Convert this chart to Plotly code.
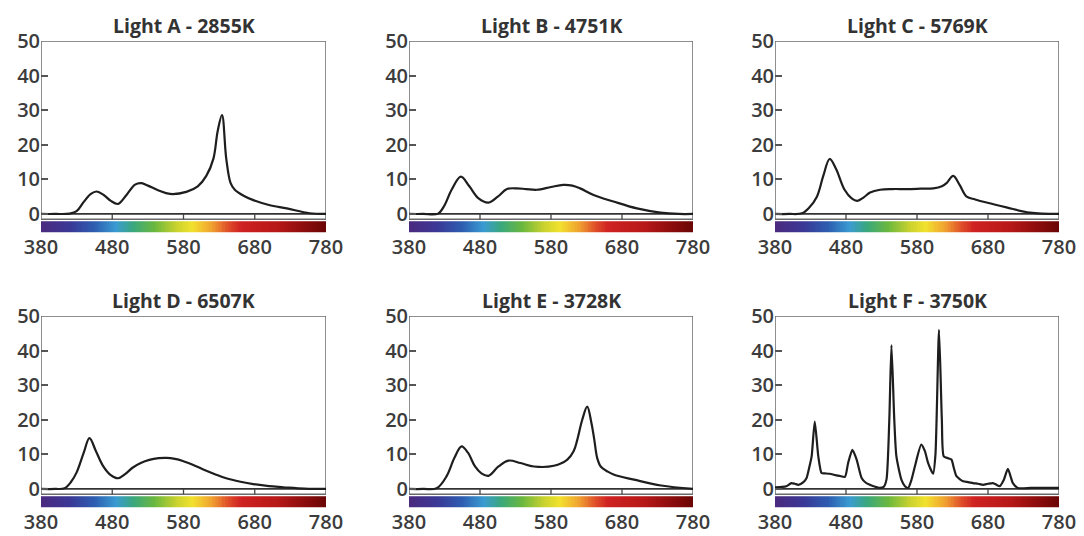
import numpy as np
import plotly.graph_objects as go

# ---------------- data ----------------
titles = ["Light A - 2855K", "Light B - 4751K", "Light C - 5769K",
          "Light D - 6507K", "Light E - 3728K", "Light F - 3750K"]

A_wl = [380, 400, 420, 430, 440, 450, 458, 468, 478, 488, 500, 512, 521, 530, 545, 561,
        584, 600, 612, 622, 628, 634, 640, 646, 652, 665, 678, 700, 725, 757, 780]
A_val = [0, 0, 0.1, 0.8, 3.5, 5.8, 6.5, 5.5, 3.8, 2.9, 5.5, 8.5, 8.9, 8.2, 6.8, 5.8,
         6.4, 8, 11, 16, 24, 28.6, 16, 9, 7, 5.2, 4, 2.6, 1.6, 0.2, 0]

B_wl = [380, 400, 421, 430, 440, 453, 465, 478, 492, 505, 518, 532, 545, 560, 580, 597,
        610, 621, 640, 668, 701, 734, 760, 780]
B_val = [0, 0, 0.1, 2.5, 7, 10.8, 8, 4.5, 3.3, 5, 7.2, 7.4, 7.2, 7.0, 7.8, 8.4,
         8.2, 7.4, 5.5, 3.6, 1.6, 0.4, 0, 0]

C_wl = [380, 400, 418, 428, 439, 448, 457, 466, 478, 488, 496, 505, 514, 528, 545, 565,
        585, 603, 615, 622, 631, 640, 650, 662, 678, 706, 739, 780]
C_val = [0, 0, 0.2, 1.8, 5, 11, 15.9, 13, 7, 4.5, 3.8, 4.8, 6.2, 7, 7.2, 7.2,
         7.3, 7.4, 8, 9, 11, 8.4, 5, 4.2, 3.3, 1.9, 0.4, 0]

D_wl = [380, 400, 413, 422, 430, 440, 448, 457, 467, 478, 488, 498, 509, 520, 532, 545,
        556, 568, 579, 593, 607, 625, 640, 660, 678, 700, 720, 750, 780]
D_val = [0, 0, 0.2, 2, 4.8, 10.5, 14.7, 11, 6.7, 4, 3.1, 4.3, 6.2, 7.5, 8.4, 8.9,
         9, 8.7, 8.1, 7, 5.7, 4.2, 3.1, 2.1, 1.4, 0.8, 0.5, 0.1, 0]

E_wl = [380, 400, 419, 433, 444, 454, 463, 473, 482, 492, 506, 520, 537, 556, 584, 603,
        612, 617, 624, 631, 637, 641, 645, 650, 660, 669, 697, 735, 780]
E_val = [0, 0, 0.2, 3.7, 9, 12.3, 10.5, 6.5, 4.5, 3.8, 6.5, 8.2, 7.5, 6.5, 6.7, 8.5,
         11, 14.2, 20, 23.8, 19, 14.2, 9, 6.5, 5, 4.1, 2.7, 1, 0]

F_wl = [380, 390, 396, 403, 408, 413, 420, 424.5, 428, 431.6, 436, 441, 445.6, 450, 457,
        465, 471, 478.5, 483, 489, 495, 502, 508, 513.6, 520, 527.7, 533, 537, 541, 544,
        548, 551, 558, 563, 567.6, 572, 577, 586, 591, 595.7, 602.7, 606, 611, 615, 617.7,
        623.8, 628.5, 632, 635.6, 645, 652, 659, 666, 673, 680, 687, 692, 696.5, 702, 708,
        712, 715, 722, 740, 760, 780]
F_val = [0.5, 0.6, 0.8, 1.7, 1.5, 1.2, 2, 3.2, 6, 9.4, 19.5, 9.4, 4.6, 4.5, 4.4,
         4.0, 3.8, 3.5, 7.5, 11.3, 8.5, 3.2, 1.8, 1.2, 0.7, 0.3, 0.6, 2.7, 20, 41.6,
         20, 9.4, 2.7, 0.8, 0.3, 2.5, 6.5, 12.8, 11, 7.5, 4.4, 10, 46, 20, 9.4,
         8.9, 8.5, 6, 3.7, 2.2, 2.0, 1.7, 1.5, 1.2, 1.5, 1.7, 1.2, 0.8, 2.5, 5.8,
         3.5, 1.7, 0.3, 0.3, 0.3, 0.3]

x_ticks = [380, 480, 580, 680, 780]
y_ticks = [0, 10, 20, 30, 40, 50]

series = [(A_wl, A_val), (B_wl, B_val), (C_wl, C_val),
          (D_wl, D_val), (E_wl, E_val), (F_wl, F_val)]

# visible spectrum colour stops (wavelength -> colour)
spec_stops = [(380, "#4b2a7e"), (420, "#3b3896"), (455, "#2d5db0"), (485, "#3a9bd2"),
              (510, "#3aa87c"), (540, "#6cb83e"), (570, "#c9d22e"), (592, "#f2e22e"),
              (620, "#f0a030"), (642, "#e0502a"), (660, "#cf2222"), (710, "#b81818"),
              (750, "#8c0c0c"), (780, "#6a0606")]

# ---------------- layout geometry (page pixels) ----------------
# the page body has an 8px margin, so the figure is drawn 8px smaller and offset
OFF = 8
W, H = 1084 - OFF, 536 - OFF
col_px = [(41, 326), (409, 693), (775, 1059)]
row_px = [(41, 233), (316, 508)]       # y=50 top, y=-5.5 bottom
title_y_px = [25, 300]

YMIN, YMAX = -5.5, 50
STRIP = -1.5
BAR_TOP, BAR_BOT = -2.1, -5.4

fig = go.Figure()

lo, hi = spec_stops[0][0], spec_stops[-1][0]
colorscale = [[(w - lo) / (hi - lo), c] for w, c in spec_stops]
edges = np.arange(380, 781, 2)
centers = (edges[:-1] + edges[1:]) / 2

text_col = "#3c3c3c"
tick_font = dict(family="Open Sans", size=20, color=text_col, weight=600)
layout_axes = {}
annotations = []
shapes = []


def px_x(p):
    return (p - OFF) / W


def px_y(p):
    return 1 - (p - OFF) / H


for i, (wl, val) in enumerate(series):
    r, c = divmod(i, 3)
    n = i + 1
    xa = "x" if n == 1 else f"x{n}"
    ya = "y" if n == 1 else f"y{n}"
    x0p, x1p = col_px[c]
    ytp, ybp = row_px[r]

    # spectrum bar
    fig.add_trace(go.Heatmap(
        x=edges, y=[BAR_BOT, BAR_TOP], z=[centers], colorscale=colorscale,
        zmin=lo, zmax=hi, showscale=False, hoverinfo="skip",
        xaxis=xa, yaxis=ya))

    # spectral curve
    fig.add_trace(go.Scatter(
        x=wl, y=val, mode="lines",
        line=dict(color="#1e1e1e", width=2.2, shape="spline",
                  smoothing=0.6 if i == 5 else 1.0),
        showlegend=False, hoverinfo="skip", xaxis=xa, yaxis=ya))

    layout_axes["xaxis" if n == 1 else f"xaxis{n}"] = dict(
        domain=[px_x(x0p), px_x(x1p)], range=[380, 780], anchor=ya, automargin=False,
        tickvals=x_ticks, ticks="", showgrid=False, zeroline=False, showline=False,
        tickfont=tick_font, fixedrange=True)
    layout_axes["yaxis" if n == 1 else f"yaxis{n}"] = dict(
        domain=[px_y(ybp), px_y(ytp)], range=[YMIN, YMAX], anchor=xa, automargin=False,
        tickvals=y_ticks, ticks="inside", ticklen=7, tickwidth=1.5, tickcolor="#555",
        showgrid=False, zeroline=False, showline=False,
        tickfont=tick_font, fixedrange=True)

    xref, yref = xa, ya
    # box frame down to the strip
    shapes.append(dict(type="rect", xref=xref, yref=yref, x0=380, x1=780, y0=STRIP, y1=YMAX,
                       line=dict(color="#6a6a6a", width=1.5), layer="below"))
    # zero line
    shapes.append(dict(type="line", xref=xref, yref=yref, x0=380, x1=780, y0=0, y1=0,
                       line=dict(color="#333", width=1.8), layer="below"))
    # x ticks into the strip
    for t in x_ticks[1:-1]:
        shapes.append(dict(type="line", xref=xref, yref=yref, x0=t, x1=t, y0=0, y1=STRIP,
                           line=dict(color="#444", width=1.3)))

    annotations.append(dict(
        text=f"<b>{titles[i]}</b>", x=px_x((x0p + x1p) / 2), y=px_y(title_y_px[r]),
        xref="paper", yref="paper", showarrow=False, xanchor="center", yanchor="middle",
        font=dict(family="Open Sans", size=19.5, color="#333")))

fig.update_layout(
    width=W, height=H, margin=dict(l=0, r=0, t=0, b=0, autoexpand=False),
    paper_bgcolor="white", plot_bgcolor="white", showlegend=False,
    annotations=annotations, shapes=shapes, **layout_axes)

fig.write_html("out.html")
